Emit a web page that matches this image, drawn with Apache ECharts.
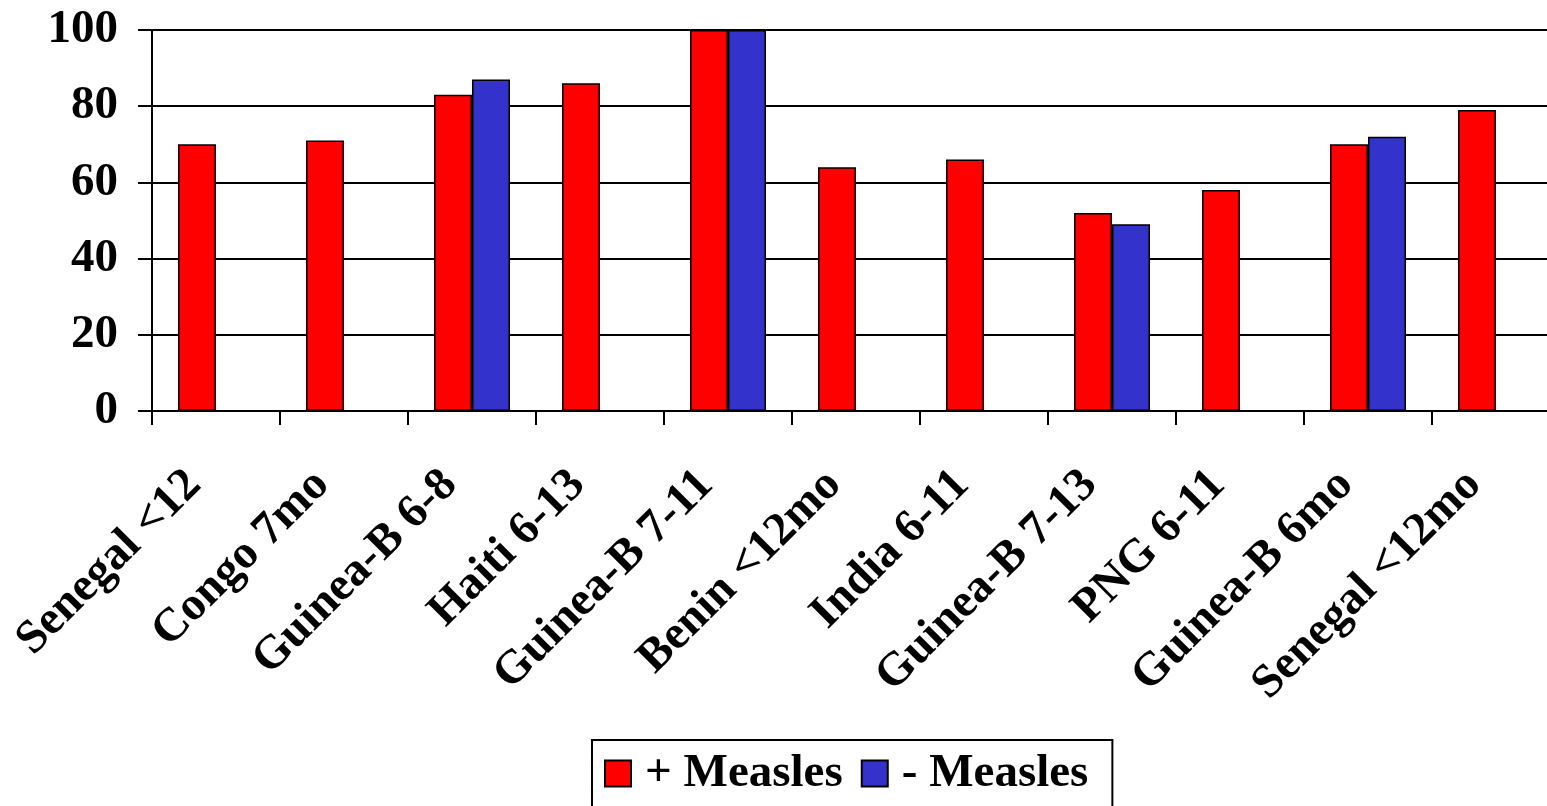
<!DOCTYPE html>
<html>
<head>
<meta charset="utf-8">
<title>Measles</title>
<script src="https://cdn.jsdelivr.net/npm/echarts@6/dist/echarts.min.js"></script>
<style>
  html, body { margin: 0; padding: 0; background: #fff; overflow: hidden; }
  /* the plot runs slightly past the right edge of the window, so the canvas is a bit wider */
  #chart { width: 1580px; height: 806px; }
</style>
</head>
<body>
<div id="chart"></div>
<script>
// Study groups along the category axis
const categories = [
  'Senegal <12', 'Congo 7mo', 'Guinea-B 6-8', 'Haiti 6-13', 'Guinea-B 7-11',
  'Benin <12mo', 'India 6-11', 'Guinea-B 7-13', 'PNG 6-11', 'Guinea-B 6mo', 'Senegal <12mo'
];
// Values with measles (+) and without (-); null where no value was reported
const plusMeasles  = [70, 71, 83, 86, 100, 64, 66, 52, 58, 70, 79];
const minusMeasles = [null, null, 87, null, 100, null, null, 49, null, 72, null];
const yTicks = [0, 20, 40, 60, 80, 100];

const FONT = '"Liberation Serif", "Times New Roman", serif';

const chart = echarts.init(document.getElementById('chart'), null, { renderer: 'canvas' });
chart.setOption({
  backgroundColor: '#ffffff',
  animation: false,
  grid: { left: 152, top: 30, right: 20, height: 381, containLabel: false },
  legend: {
    left: 592, top: 740,
    data: ['+ Measles', '- Measles'],
    icon: 'rect',
    itemWidth: 26, itemHeight: 26,
    itemGap: 18,
    borderColor: '#000', borderWidth: 2,
    padding: [10, 24, 10, 12],
    textStyle: { fontFamily: FONT, fontWeight: 'bold', fontSize: 47, color: '#000', padding: [0, 0, 0, 9] }
  },
  xAxis: {
    type: 'category',
    data: categories,
    axisLine: { lineStyle: { color: '#000', width: 2 } },
    axisTick: { show: true, length: 14, inside: false, lineStyle: { color: '#000', width: 2 } },
    axisLabel: {
      interval: 0, rotate: 45, margin: 45,
      padding: [0, 31, 0, 0],
      fontFamily: FONT, fontWeight: 'bold', fontSize: 47, color: '#000'
    },
    splitLine: { show: false }
  },
  yAxis: {
    type: 'value',
    min: yTicks[0], max: yTicks[yTicks.length - 1], interval: 20,
    axisLine: { show: true, lineStyle: { color: '#000', width: 2 } },
    axisTick: { show: true, length: 14, lineStyle: { color: '#000', width: 2 } },
    axisLabel: { margin: 34, fontFamily: FONT, fontWeight: 'bold', fontSize: 47, color: '#000' },
    splitLine: { show: true, lineStyle: { color: '#000', width: 2 } }
  },
  series: [
    {
      name: '+ Measles', type: 'bar', data: plusMeasles,
      barWidth: 38, barGap: '0%',
      itemStyle: { color: '#ff0000', borderColor: '#000', borderWidth: 1.5 }
    },
    {
      name: '- Measles', type: 'bar', data: minusMeasles,
      barWidth: 38, barGap: '0%',
      itemStyle: { color: '#3333cc', borderColor: '#000', borderWidth: 1.5 }
    }
  ]
});
</script>
</body>
</html>
